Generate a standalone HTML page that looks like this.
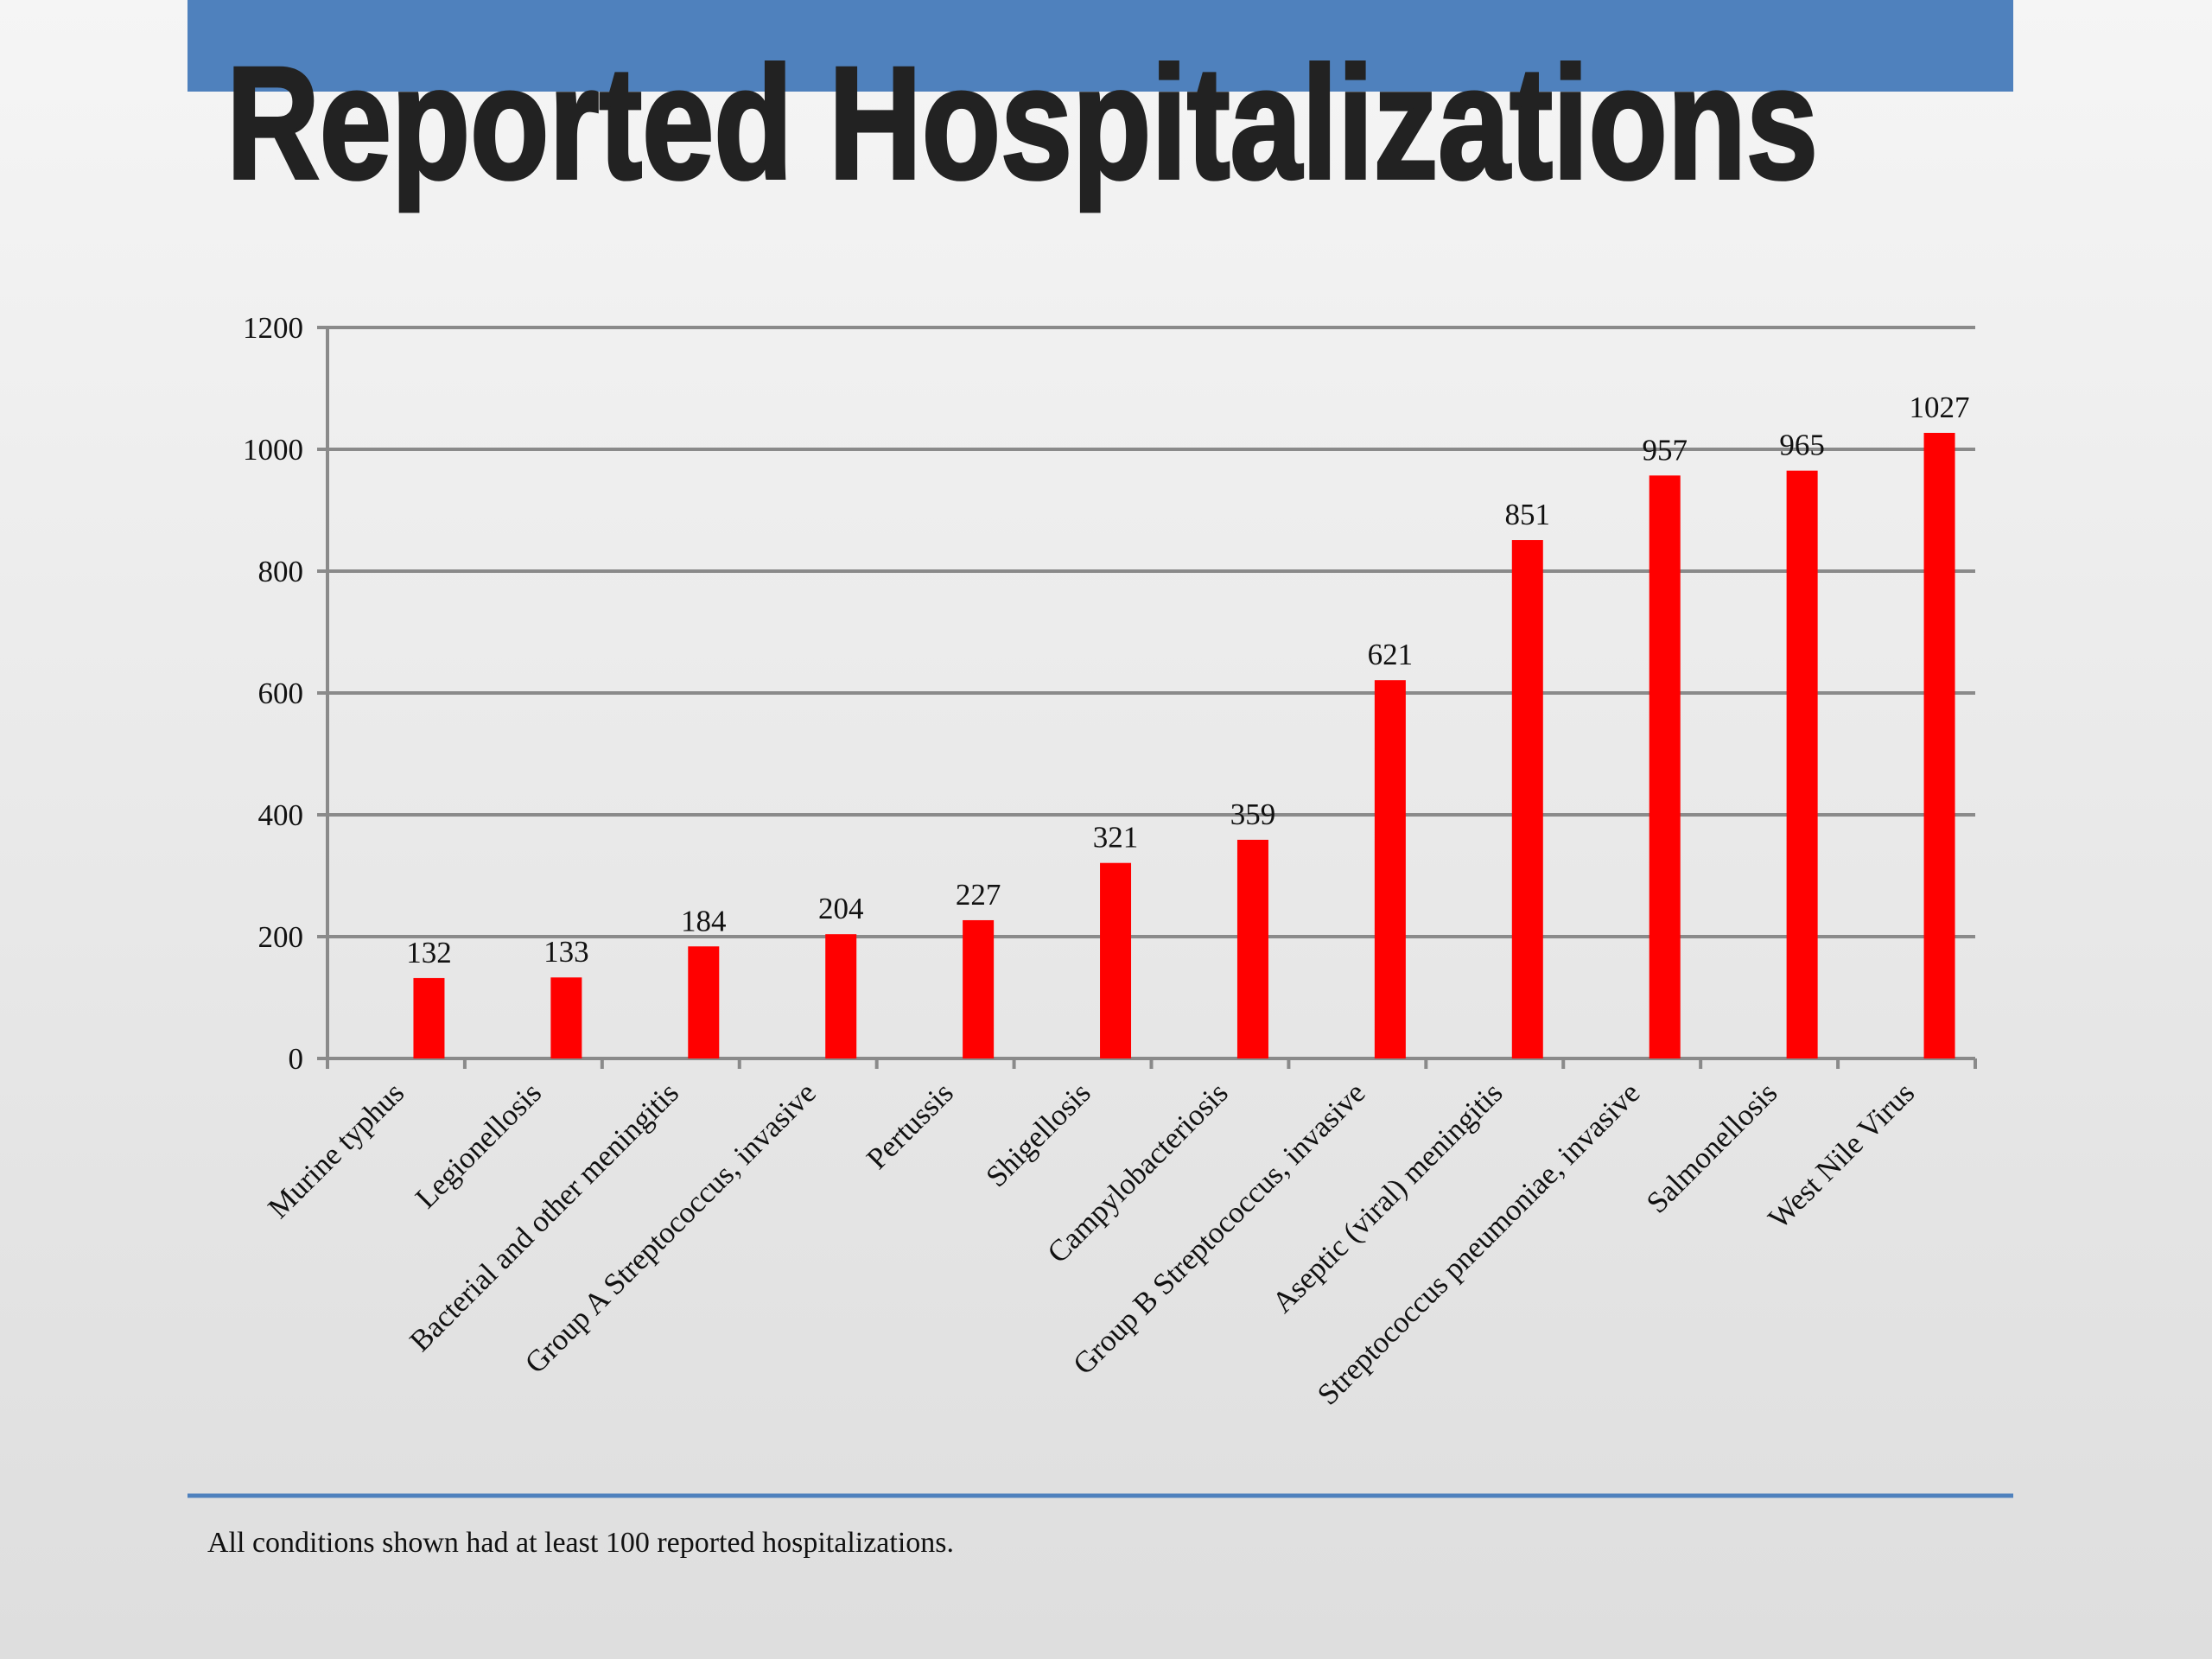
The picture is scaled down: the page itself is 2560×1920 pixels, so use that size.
<!DOCTYPE html>
<html><head><meta charset="utf-8"><style>
html,body{margin:0;padding:0;width:2560px;height:1920px;overflow:hidden}
body{background:linear-gradient(180deg,#f5f5f5 0%,#e9e9e9 50%,#dedede 100%)}
svg{display:block}
</style></head><body>
<svg width="2560" height="1920" viewBox="0 0 2560 1920">
<rect x="217" y="0" width="2113" height="106" fill="#4f81bd"/>
<text x="262" y="206" font-family="'Liberation Sans Narrow','Liberation Sans',sans-serif" font-weight="bold" font-size="185" fill="#222" stroke="#222" stroke-width="4" textLength="1842" lengthAdjust="spacingAndGlyphs">Reported Hospitalizations</text>
<g id="chart"></g>
<line x1="217" y1="1731" x2="2330" y2="1731" stroke="#4f81bd" stroke-width="5"/>
<text x="240" y="1796" font-family="'Liberation Serif',serif" font-size="34" fill="#111">All conditions shown had at least 100 reported hospitalizations.</text>
</svg>
<script>
const categories=["Murine typhus","Legionellosis","Bacterial and other meningitis","Group A Streptococcus, invasive","Pertussis","Shigellosis","Campylobacteriosis","Group B Streptococcus, invasive","Aseptic (viral) meningitis","Streptococcus pneumoniae, invasive","Salmonellosis","West Nile Virus"];
const values=[132,133,184,204,227,321,359,621,851,957,965,1027];
const yTicks=[0,200,400,600,800,1000,1200];
const NS="http://www.w3.org/2000/svg";
const g=document.getElementById('chart');
const x0=379,x1=2286,y0=1225,y1=379,yMax=1200;
const band=(x1-x0)/categories.length;
const yS=v=>y0-(v/yMax)*(y0-y1);
const xC=i=>x0+band*(i+0.5)+38;
function mk(t,a){const e=document.createElementNS(NS,t);for(const k in a)e.setAttribute(k,a[k]);g.appendChild(e);return e;}
yTicks.forEach(v=>{
  const l=mk('line',{x1:x0-12,x2:x1,y1:yS(v),y2:yS(v),stroke:'#8a8a8a','stroke-width':4});
  
  
  const t=mk('text',{x:x0-28,y:yS(v)+12,'text-anchor':'end','font-family':"'Liberation Serif',serif",'font-size':35,fill:'#111'});
  t.textContent=v;
  
  
});
const ax=mk('line',{x1:x0,x2:x0,y1:y1,y2:y0,stroke:'#8a8a8a','stroke-width':4});


for(let i=0;i<=categories.length;i++){
  const tk=mk('line',{x1:x0+band*i,x2:x0+band*i,y1:y0,y2:y0+12,stroke:'#8a8a8a','stroke-width':4});
  
  
}
categories.forEach((c,i)=>{
  const v=values[i],cx=xC(i),w=36;
  const b=mk('rect',{x:cx-w/2,y:yS(v),width:w,height:y0-yS(v),fill:'#ff0000'});
  
  
  const vl=mk('text',{x:cx,y:yS(v)-18,'text-anchor':'middle','font-family':"'Liberation Serif',serif",'font-size':35,fill:'#111'});
  vl.textContent=v;
  
  
  const lx=cx-27,ly=y0+42;
  const cl=mk('text',{x:lx,y:ly,'text-anchor':'end','font-family':"'Liberation Serif',serif",'font-size':35,fill:'#111',transform:`rotate(-45 ${lx} ${ly})`});
  cl.textContent=c;
  
  
});
</script>
</body></html>
